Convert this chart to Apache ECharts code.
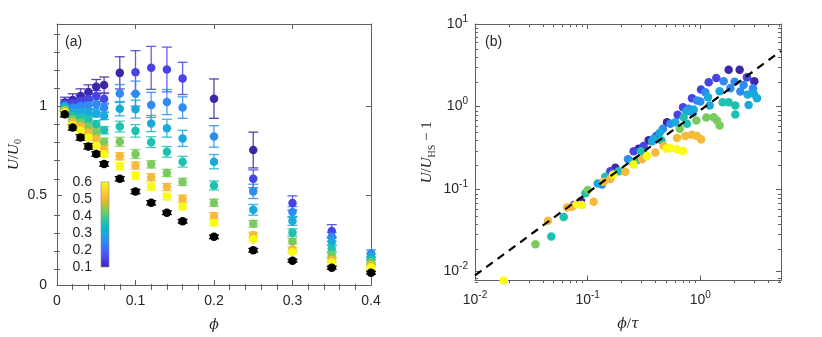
<!DOCTYPE html>
<html><head><meta charset="utf-8">
<script src="https://cdn.jsdelivr.net/npm/echarts@6/dist/echarts.min.js"></script>
<style>html,body{margin:0;padding:0;background:#fff}#c{width:822px;height:337px}</style>
</head><body><div id="c"></div>
<script>
// ---------------- data: panel (a) ----------------
const phi = [0.01,0.02,0.03,0.04,0.05,0.06,0.08,0.1,0.12,0.14,0.16,0.2,0.25,0.3,0.35,0.4];
const tauValues = [0.1,0.15,0.25,0.3,0.36,0.43,0.51,0.6];
const U1 = [1.019,1.033,1.056,1.078,1.108,1.117,1.185,null,null,null,null,1.041,0.754,null,null,null];
const E1 = [0.03,0.035,0.04,0.04,0.04,0.045,0.09,null,null,null,null,0.11,0.1,null,null,null];
const U2 = [1.01,1.015,1.028,1.041,1.056,1.041,null,1.189,1.213,1.204,1.154,null,0.593,0.458,0.302,null];
const E2 = [0.025,0.03,0.03,0.03,0.03,0.03,null,0.12,0.12,0.125,0.09,null,0.05,0.04,0.035,null];
const U3 = [1.003,0.991,1.0,1.004,1.01,0.991,1.07,1.069,1.006,1.022,0.991,0.83,0.523,0.408,0.269,0.176];
const E3 = [0.02,0.025,0.025,0.025,0.025,0.025,0.05,0.07,0.07,0.07,0.06,0.06,0.04,0.03,0.025,0.02];
const U4 = [0.995,0.967,0.967,0.963,0.958,0.944,0.985,0.982,0.902,0.876,0.819,0.689,0.42,0.358,0.241,0.158];
const E4 = [0.02,0.02,0.02,0.02,0.02,0.02,0.04,0.05,0.045,0.05,0.045,0.04,0.03,0.025,0.02,0.015];
const U5 = [0.985,0.944,0.935,0.926,0.898,0.865,0.885,0.861,0.798,0.744,0.689,0.556,null,0.293,0.204,0.139];
const E5 = [0.02,0.02,0.02,0.02,0.02,0.02,0.03,0.035,0.03,0.03,0.03,0.025,null,0.02,0.018,0.015];
const U6 = [0.978,0.926,0.908,0.885,0.852,0.8,0.8,0.732,0.674,0.626,0.576,0.459,0.342,0.245,0.167,0.126];
const E6 = [0.015,0.015,0.02,0.02,0.02,0.02,0.025,0.025,0.02,0.02,0.02,0.02,0.018,0.015,0.012,0.012];
const U7 = [0.97,0.908,0.885,0.852,0.815,0.759,0.719,0.667,0.602,0.547,0.482,0.386,0.279,0.2,0.139,0.111];
const E7 = [0.015,0.015,0.015,0.02,0.02,0.02,0.02,0.02,0.02,0.02,0.02,0.018,0.015,0.012,0.01,0.01];
const U8 = [0.962,0.893,0.861,0.824,0.778,0.732,0.663,0.611,0.55,0.494,0.439,0.348,0.256,0.185,0.126,0.098];
const E8 = [0.015,0.015,0.015,0.015,0.015,0.015,0.02,0.02,0.02,0.018,0.018,0.015,0.012,0.01,0.01,0.01];
const U_HS = [0.954,0.88,0.824,0.774,0.732,0.676,0.593,0.522,0.459,0.404,0.356,0.269,0.194,0.136,0.097,0.069];
const E_HS = [0.015,0.015,0.015,0.015,0.012,0.012,0.012,0.012,0.012,0.01,0.01,0.01,0.01,0.008,0.008,0.008];

// ---------------- data: panel (b)  [phi/tau, U/U_HS - 1] ----------------
const R1 = [[1.784,2.791],[2.234,2.791],[3.014,2.02],[0.506,0.647],[0.348,0.389],[0.284,0.309],[0.176,0.1807],[0.0873,0.0717]];
const R2 = [[1.387,2.215],[1.186,1.965],[2.594,2.256],[1.014,1.603],[0.843,1.26],[0.702,0.982],[0.629,0.794],[0.407,0.439],[0.314,0.333],[0.256,0.287],[0.159,0.1647],[0.0752,0.0642]];
const R3 = [[1.611,2.02],[2.017,2.0],[2.424,1.824],[1.846,1.663],[2.933,1.663],[1.107,1.488],[2.264,1.516],[0.934,1.181],[1.0,1.149],[0.788,0.937],[0.542,0.618],[0.466,0.538],[0.228,0.23],[0.134,0.1138]];
const R4 = [[1.484,1.53],[2.63,1.395],[2.993,1.421],[3.184,1.26],[1.17,1.296],[2.684,1.047],[1.21,1.028],[0.873,0.92],[0.751,0.87],[0.861,0.839],[0.6,0.647],[0.436,0.482],[0.385,0.408],[0.373,0.379],[0.2475,0.2135],[0.1228,0.117]];
const R5 = [[1.578,1.128],[1.784,1.128],[2.045,1.028],[2.045,0.801],[0.711,0.744],[0.762,0.618],[0.451,0.389],[0.297,0.287],[0.314,0.269],[0.274,0.2236],[0.1886,0.1647],[0.1436,0.141],[0.0955,0.0887],[0.0613,0.046],[0.0476,0.0267]];
const R6 = [[1.13,0.737],[1.313,0.744],[1.406,0.678],[1.484,0.59],[0.922,0.678],[0.656,0.538],[0.1,0.0973],[0.0344,0.0215]];
const R7 = [[0.621,0.415],[0.736,0.439],[0.843,0.456],[0.934,0.439],[1.014,0.4],[0.473,0.333],[0.399,0.277],[0.304,0.23],[0.216,0.1617],[0.159,0.132],[0.1388,0.1226],[0.0727,0.0612],[0.0656,0.0596],[0.1131,0.0704],[0.0445,0.0412]];
const R8 = [[0.499,0.309],[0.542,0.315],[0.621,0.303],[0.702,0.29],[0.336,0.252],[0.256,0.1982],[0.168,0.15],[0.0805,0.0654],[0.0891,0.0642],[0.018,0.0078]];
const guideX = [0.01, 5.2];
const guideY = [0.009, 4.7];

// ---------------- ticks ----------------
const xMajA = [0,0.1,0.2,0.3,0.4];
const xMinA = [0.02,0.04,0.06,0.08,0.12,0.14,0.16,0.18,0.22,0.24,0.26,0.28,0.32,0.34,0.36,0.38];
const yMajA = [0,0.5,1];
const yMinA = [0.1,0.2,0.3,0.4,0.6,0.7,0.8,0.9,1.1,1.2,1.3,1.4];
const xMajB = [0.01,0.1,1];
const xMinB = [0.02,0.03,0.04,0.05,0.06,0.07,0.08,0.09,0.2,0.3,0.4,0.5,0.6,0.7,0.8,0.9,2,3,4,5];
const yMajB = [0.01,0.1,1,10];
const yMinB = [0.008,0.009,0.02,0.03,0.04,0.05,0.06,0.07,0.08,0.09,0.2,0.3,0.4,0.5,0.6,0.7,0.8,0.9,2,3,4,5,6,7,8,9];
const cbTicks = [0.1,0.2,0.3,0.4,0.5,0.6];
const cbRange = [0.1,0.6];

// ---------------- colormap (parula) ----------------
const PARULA_ROWS = [0,4,8,12,16,20,24,28,32,36,40,44,48,52,56,60,63];
const PARULA = [[0.2422,0.1504,0.6603],[0.2706,0.2147,0.8364],[0.2813,0.3006,0.9414],[0.2699,0.3892,0.9906],
 [0.1963,0.4847,0.9892],[0.1687,0.5703,0.9359],[0.1248,0.6459,0.8883],[0.0297,0.7082,0.8163],
 [0.0964,0.7500,0.7120],[0.2161,0.7843,0.5923],[0.3909,0.8029,0.4354],[0.6174,0.7876,0.2612],
 [0.8634,0.7406,0.1596],[0.9728,0.7298,0.2394],[0.9892,0.8136,0.1885],[0.9597,0.9135,0.1423],[0.9769,0.9839,0.0805]];
function rgb(c){return 'rgb('+c.map(v=>Math.round(v*255)).join(',')+')';}
function parula(f){
  f=Math.max(0,Math.min(1,f));
  const p=f*63;
  let i=0; while(i<PARULA_ROWS.length-2 && PARULA_ROWS[i+1]<p) i++;
  const t=(p-PARULA_ROWS[i])/(PARULA_ROWS[i+1]-PARULA_ROWS[i]);
  return rgb(PARULA[i].map((v,k)=>v+(PARULA[i+1][k]-v)*t));
}
function tauColor(t){return parula((t-cbRange[0])/(cbRange[1]-cbRange[0]));}

// ---------------- styling ----------------
const AX='#5f5f5f', TXT='#262626', SANS='Liberation Sans, Arial, sans-serif';
const lbl = {color:TXT, fontSize:14, fontFamily:SANS};
function mainAxis(o){
  return Object.assign({type:'value', splitLine:{show:false},
    axisLine:{show:true,onZero:false,lineStyle:{color:AX,width:1}},
    axisTick:{show:true,inside:true,length:5,lineStyle:{color:AX,width:1},customValues:o.ticks},
    axisLabel:o.labels?Object.assign({show:true,customValues:o.ticks},lbl,o.labels):{show:false}}, o.base);
}
function minorAxis(o){
  return Object.assign({type:'value', splitLine:{show:false}, axisLine:{show:false},
    axisTick:{show:true,inside:true,length:3,lineStyle:{color:AX,width:1},customValues:o.ticks},
    axisLabel:{show:false}}, o.base);
}
const supRich = {b:{fontSize:14,color:TXT,fontFamily:SANS,lineHeight:20,verticalAlign:'middle'},
                 s:{fontSize:10,color:TXT,fontFamily:SANS,lineHeight:8,verticalAlign:'top'}};
const logFmt = v => '{b|10}{s|'+Math.round(Math.log10(v))+'}';
const nameRich = {
  i:{fontFamily:'Liberation Serif',fontStyle:'italic',fontSize:15,color:TXT,lineHeight:20,verticalAlign:'middle'},
  n:{fontFamily:'Liberation Serif',fontSize:15,color:TXT,lineHeight:20,verticalAlign:'middle'},
  g:{fontFamily:'DejaVu Serif',fontStyle:'italic',fontSize:14,color:TXT,lineHeight:20,verticalAlign:'middle'},
  s:{fontFamily:'Liberation Serif',fontSize:10,color:TXT,lineHeight:10,verticalAlign:'bottom'}
};

const GA = {left:57, top:24, width:314, height:263};
const GB = {left:475, top:24, width:306, height:259};
const GC = {left:101, top:182, width:8, height:85};

const xAxis = [
  mainAxis({ticks:xMajA, labels:{margin:9, formatter:v=>String(+(+v).toFixed(2))},
    base:{gridIndex:0,position:'bottom',min:0,max:0.4,name:'{g|ϕ}',nameLocation:'middle',nameGap:30,nameTextStyle:{rich:nameRich}}}),
  mainAxis({ticks:xMajA, base:{gridIndex:0,position:'top',min:0,max:0.4}}),
  minorAxis({ticks:xMinA, base:{gridIndex:1,position:'bottom',min:0,max:0.4}}),
  minorAxis({ticks:xMinA, base:{gridIndex:1,position:'top',min:0,max:0.4}}),
  mainAxis({ticks:xMajB, labels:{margin:10, formatter:logFmt, rich:supRich},
    base:{type:'log',logBase:10,gridIndex:2,position:'bottom',min:0.01,max:5.2,name:'{g|ϕ}{n|/}{g|τ}',nameLocation:'middle',nameGap:34,nameTextStyle:{rich:nameRich}}}),
  mainAxis({ticks:xMajB, base:{type:'log',logBase:10,gridIndex:2,position:'top',min:0.01,max:5.2}}),
  minorAxis({ticks:xMinB, base:{type:'log',logBase:10,gridIndex:3,position:'bottom',min:0.01,max:5.2}}),
  minorAxis({ticks:xMinB, base:{type:'log',logBase:10,gridIndex:3,position:'top',min:0.01,max:5.2}}),
  {type:'value',gridIndex:4,min:0,max:1,show:false}
];
const yAxis = [
  mainAxis({ticks:yMajA, labels:{margin:10, formatter:v=>String(+(+v).toFixed(2))},
    base:{gridIndex:0,position:'left',min:0,max:1.458,name:'{i|U}{n|/}{i|U}{s|0}',nameLocation:'middle',nameRotate:90,nameGap:23,nameTextStyle:{rich:nameRich}}}),
  mainAxis({ticks:yMajA, base:{gridIndex:0,position:'right',min:0,max:1.458}}),
  minorAxis({ticks:yMinA, base:{gridIndex:1,position:'left',min:0,max:1.458}}),
  minorAxis({ticks:yMinA, base:{gridIndex:1,position:'right',min:0,max:1.458}}),
  mainAxis({ticks:yMajB, labels:{margin:7, formatter:logFmt, rich:supRich},
    base:{type:'log',logBase:10,gridIndex:2,position:'left',min:0.0078,max:10,name:'{i|U}{n|/}{i|U}{s|HS}{n| − 1}',nameLocation:'middle',nameRotate:90,nameGap:38,nameTextStyle:{rich:nameRich}}}),
  mainAxis({ticks:yMajB, base:{type:'log',logBase:10,gridIndex:2,position:'right',min:0.0078,max:10}}),
  minorAxis({ticks:yMinB, base:{type:'log',logBase:10,gridIndex:3,position:'left',min:0.0078,max:10}}),
  minorAxis({ticks:yMinB, base:{type:'log',logBase:10,gridIndex:3,position:'right',min:0.0078,max:10}}),
  {type:'value',gridIndex:4,position:'left',min:cbRange[0],max:cbRange[1],splitLine:{show:false},
   axisLine:{show:false},axisTick:{show:false},
   axisLabel:Object.assign({show:true,customValues:cbTicks,margin:9,formatter:v=>String(+(+v).toFixed(2))},lbl)}
];

// ---------------- series ----------------
const series = [];
function errBars(U,E,color,op){
  const data=[]; phi.forEach((p,i)=>{ if(U[i]!=null) data.push([p,U[i],E[i]]); });
  return {type:'custom',xAxisIndex:0,yAxisIndex:0,data,encode:{x:0,y:1},silent:true,
    renderItem:(params,api)=>{
      const x=api.value(0), y=api.value(1), e=api.value(2);
      const lo=api.coord([x,y-e]), hi=api.coord([x,y+e]), hw=5;
      const st={stroke:color,lineWidth:1.3,opacity:op};
      return {type:'group',children:[
        {type:'line',shape:{x1:lo[0],y1:lo[1],x2:hi[0],y2:hi[1]},style:st},
        {type:'line',shape:{x1:lo[0]-hw,y1:lo[1],x2:lo[0]+hw,y2:lo[1]},style:st},
        {type:'line',shape:{x1:hi[0]-hw,y1:hi[1],x2:hi[0]+hw,y2:hi[1]},style:st}]};
    }};
}
function marks(U,color){
  const data=[]; phi.forEach((p,i)=>{ if(U[i]!=null) data.push([p,U[i]]); });
  return {type:'scatter',xAxisIndex:0,yAxisIndex:0,data,symbol:'circle',symbolSize:8.5,itemStyle:{color,opacity:1},silent:true};
}
const Us=[U1,U2,U3,U4,U5,U6,U7,U8], Es=[E1,E2,E3,E4,E5,E6,E7,E8], Rs=[R1,R2,R3,R4,R5,R6,R7,R8];
Us.forEach((U,k)=>{ const c=tauColor(tauValues[k]); series.push(errBars(U,Es[k],c,0.85)); series.push(marks(U,c)); });
series.push(errBars(U_HS,E_HS,'#000',1)); series.push(marks(U_HS,'#000'));

Rs.forEach((R,k)=>{ series.push({type:'scatter',xAxisIndex:4,yAxisIndex:4,data:R,symbol:'circle',symbolSize:8.5,clip:false,
  itemStyle:{color:tauColor(tauValues[k]),opacity:1},silent:true}); });
series.push({type:'line',xAxisIndex:4,yAxisIndex:4,data:guideX.map((x,i)=>[x,guideY[i]]),symbol:'none',z:5,silent:true,
  lineStyle:{color:'#000',width:2.2,type:[8,6]}});

// colorbar
series.push({type:'custom',xAxisIndex:8,yAxisIndex:8,data:[[0,cbRange[0],1,cbRange[1]]],encode:{x:[0,2],y:[1,3]},silent:true,
  renderItem:(params,api)=>{
    const a=api.coord([api.value(0),api.value(3)]), b=api.coord([api.value(2),api.value(1)]);
    const stops=PARULA_ROWS.map((r,i)=>({offset:r/63,color:rgb(PARULA[i])}));
    return {type:'rect',shape:{x:a[0],y:a[1],width:b[0]-a[0],height:b[1]-a[1]},
      style:{fill:new echarts.graphic.LinearGradient(0,1,0,0,stops),stroke:'#8a8a8a',lineWidth:0.6}};
  }});

const option = {
  animation:false, backgroundColor:'#fff',
  title:[
    {text:'(a)',left:65,top:35,padding:0,textStyle:{fontSize:14,fontWeight:'normal',fontFamily:SANS,color:TXT}},
    {text:'(b)',left:485,top:35,padding:0,textStyle:{fontSize:14,fontWeight:'normal',fontFamily:SANS,color:TXT}}
  ],
  grid:[Object.assign({},GA),Object.assign({},GA),Object.assign({},GB),Object.assign({},GB),Object.assign({},GC)],
  xAxis, yAxis, series
};
const chart = echarts.init(document.getElementById('c'));
chart.setOption(option);
</script></body></html>
